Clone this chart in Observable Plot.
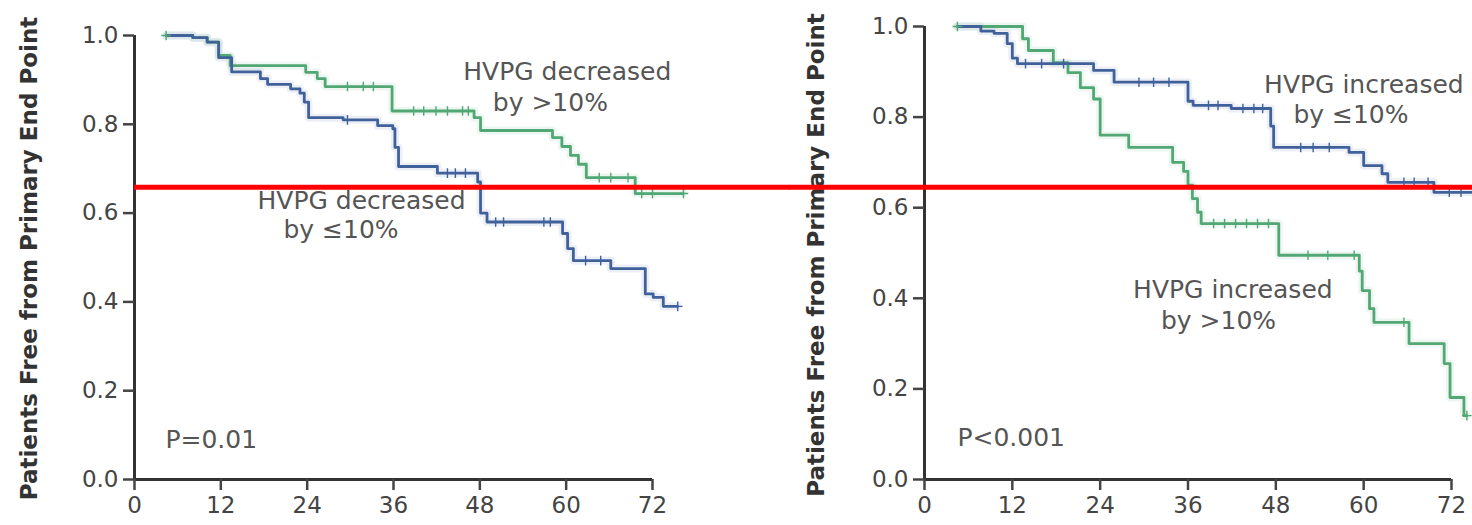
<!DOCTYPE html>
<html><head><meta charset="utf-8">
<script src="https://cdn.jsdelivr.net/npm/d3@7"></script>
<script src="https://cdn.jsdelivr.net/npm/@observablehq/plot@0.6"></script>
<style>
body{margin:0;background:#fff;}
#wrap{position:relative;width:1472px;height:525px;overflow:hidden;background:#fff;}
#left,#right{position:absolute;top:0;}
#left{left:0;} #right{left:790px;}
svg{display:block;}
</style></head><body><div id="wrap"><div id="left"></div><div id="right"></div></div>
<script>
const xTicks = [0, 12, 24, 36, 48, 60, 72];
const yTicks = [0, 0.2, 0.4, 0.6, 0.8, 1.0];
const yTitle = "Patients Free from Primary End Point";
const green = "#52a874";
const blue = "#41619b";

// Left panel: HVPG decreased >10% (green) / ≤10% (blue) — [month, proportion free]
const decMoreSteps = [[4.4,1.0],[8.1,0.995],[10.1,0.985],[11.7,0.955],[13.3,0.932],[23.8,0.917],[25.4,0.903],[26.5,0.885],[35.8,0.83],[47.2,0.815],[48.1,0.786],[58.1,0.77],[59.4,0.75],[60.6,0.73],[61.7,0.71],[62.8,0.68],[69.6,0.644],[76.3,0.644]];
const decMoreCensor = [4.4,29.6,31.8,33.2,38.8,40.2,41.9,43.5,45.6,46.4,64.6,66.2,68.6,70.5,72.0,76.3];
const decLessSteps = [[4.4,1.0],[8.1,0.995],[10.1,0.985],[11.7,0.95],[13.5,0.918],[17.5,0.903],[18.5,0.89],[21.7,0.88],[23.0,0.87],[23.6,0.85],[24.2,0.815],[29.0,0.81],[33.8,0.797],[35.9,0.79],[36.2,0.748],[36.7,0.705],[42.1,0.69],[47.7,0.67],[48.1,0.6],[49.0,0.58],[59.5,0.554],[60.2,0.52],[61.0,0.493],[66.2,0.475],[71.0,0.418],[72.1,0.41],[73.5,0.39],[75.5,0.39]];
const decLessCensor = [29.6,43.5,44.6,46.0,50.2,51.3,56.9,57.8,62.7,64.8,75.5];

// Right panel: HVPG increased >10% (green) / ≤10% (blue)
const incMoreSteps = [[4.5,1.0],[13.4,0.973],[14.2,0.947],[17.6,0.92],[19.6,0.898],[21.3,0.865],[23.1,0.84],[24.0,0.76],[27.9,0.733],[33.9,0.70],[35.4,0.68],[36.0,0.65],[36.6,0.62],[37.3,0.59],[37.8,0.565],[48.4,0.495],[59.4,0.46],[59.8,0.417],[60.8,0.377],[61.4,0.347],[66.2,0.30],[71.0,0.256],[71.8,0.181],[73.7,0.141],[74.1,0.141]];
const incMoreCensor = [4.5,39.5,41,42.5,44,45.5,47,52.4,55.1,58.7,65.5,74.1];
const incLessSteps = [[4.5,1.0],[7.7,0.99],[9.5,0.985],[11.3,0.962],[12.0,0.93],[12.7,0.918],[23.1,0.903],[25.9,0.877],[36.0,0.835],[36.7,0.826],[41.9,0.819],[47.3,0.78],[47.7,0.733],[58.0,0.722],[60.0,0.693],[62.5,0.675],[63.3,0.656],[69.6,0.634],[75.0,0.634]];
const incLessCensor = [13.8,16,19,29.3,31.3,33.4,38.8,40.1,43.5,45,46.2,51.4,53.1,55.3,65.5,66.9,68.8,71.7,73.3];

// Text labels: [month, proportion, text] (start-anchored, baseline)
const leftLabels = [[45.7,0.899,"HVPG decreased"],[49.8,0.831,"by >10%"],[17.1,0.610,"HVPG decreased"],[20.7,0.543,"by ≤10%"],[4.3,0.070,"P=0.01"]];
const rightLabels = [[46.4,0.854,"HVPG increased"],[50.4,0.788,"by ≤10%"],[28.5,0.400,"HVPG increased"],[32.3,0.333,"by >10%"],[4.5,0.075,"P<0.001"]];

// Red horizontal reference line (value on each panel's scale, x extent in months)
const leftRef = {y: 0.658, x1: 0, x2: 91.2};
const rightRef = {y: 0.645, x1: -18.4, x2: 75.0};

function stepAt(steps, t) {
  let s = steps[0][1];
  for (const [tt, v] of steps) { if (tt <= t) s = v; }
  return s;
}

function panel(opts) {
  const series = [];
  const cens = [];
  for (const s of opts.series) {
    for (const [t, v] of s.steps) series.push({t, v, g: s.name, c: s.color});
    for (const t of s.censor) cens.push({t, v: stepAt(s.steps, t), c: s.color});
  }
  const labels = opts.labels.map(([x, y, t]) => ({x, y, t}));
  return Plot.plot({
    width: opts.width, height: 525,
    marginLeft: 134, marginRight: opts.marginRight, marginTop: opts.marginTop, marginBottom: 46,
    style: {fontFamily: "DejaVu Sans", background: "transparent", overflow: "visible"},
    x: {domain: [0, 72], label: null},
    y: {domain: [0, 1], label: null},
    marks: [
      Plot.line(series, {x: "t", y: "v", z: "g", stroke: "c", curve: "step-after", strokeWidth: 8, strokeOpacity: 0.1}),
      Plot.line(series, {x: "t", y: "v", z: "g", stroke: "c", curve: "step-after", strokeWidth: 2.8}),
      Plot.dot(cens, {x: "t", y: "v", stroke: "c", symbol: "plus", r: 3.2, strokeWidth: 1.4}),
      Plot.ruleX([0], {y1: 0, y2: 1, stroke: "#333", strokeWidth: 3}),
      Plot.ruleY([0], {x1: 0, x2: 72, stroke: "#333", strokeWidth: 3}),
      Plot.axisY({ticks: yTicks, tickSize: 11, tickPadding: 5, tickFormat: d3.format(".1f"), fontSize: 23, color: "#444", strokeWidth: 2.5, label: null}),
      Plot.axisX({ticks: xTicks, tickSize: 11, tickPadding: 6, tickFormat: d => String(d), fontSize: 23, color: "#444", strokeWidth: 2.5, label: null}),
      Plot.text(labels, {x: "x", y: "y", text: "t", textAnchor: "start", lineAnchor: "bottom", fontSize: 25, fill: "#555"}),
      Plot.text([yTitle], {frameAnchor: "left", rotate: -90, dx: opts.titleDx, dy: opts.titleDy, textAnchor: "middle", fontSize: 23, fontWeight: "bold", fill: "#333"}),
      Plot.ruleY([opts.ref.y], {x1: opts.ref.x1, x2: opts.ref.x2, stroke: "#ff0000", strokeWidth: 5})
    ]
  });
}

document.getElementById("left").appendChild(panel({
  width: 790, marginRight: 138, marginTop: 35, titleDx: -105, titleDy: 1,
  series: [
    {name: "dec>10", steps: decMoreSteps, censor: decMoreCensor, color: green},
    {name: "dec<=10", steps: decLessSteps, censor: decLessCensor, color: blue}
  ],
  labels: leftLabels, ref: leftRef
}));
document.getElementById("right").appendChild(panel({
  width: 682, marginRight: 21, marginTop: 26, titleDx: -108, titleDy: 2,
  series: [
    {name: "inc>10", steps: incMoreSteps, censor: incMoreCensor, color: green},
    {name: "inc<=10", steps: incLessSteps, censor: incLessCensor, color: blue}
  ],
  labels: rightLabels, ref: rightRef
}));
</script></body></html>
